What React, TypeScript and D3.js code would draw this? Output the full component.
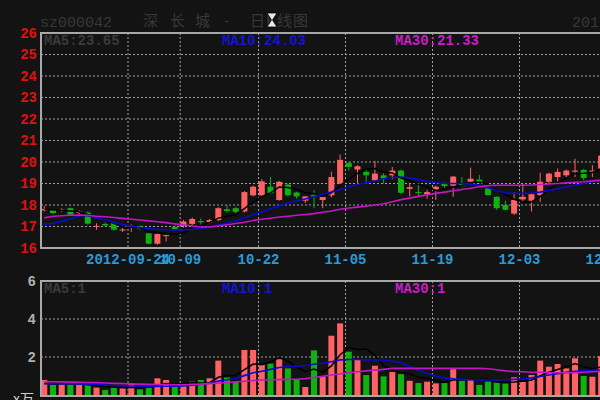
import React from "react";
import * as d3 from "d3";

// ---- data ----
const dates = [
  "09-10","09-11","09-12","09-13","09-14","09-17","09-18","09-19","09-20","09-21",
  "09-24","09-25","09-26","09-27","09-28","10-08","10-09","10-10","10-11","10-12",
  "10-15","10-16","10-17","10-18","10-19","10-22","10-23","10-24","10-25","10-26",
  "10-29","10-30","10-31","11-01","11-02","11-05","11-06","11-07","11-08","11-09",
  "11-12","11-13","11-14","11-15","11-16","11-19","11-20","11-21","11-22","11-23",
  "11-26","11-27","11-28","11-29","11-30","12-03","12-04","12-05","12-06","12-07",
  "12-10","12-11","12-12","12-13","12-14"
];
const open = [
  17.75,17.77,17.74,17.85,17.63,17.65,16.98,17.12,17.2,16.82,
  16.93,17.0,16.68,16.2,16.55,16.98,17.03,17.12,17.25,17.2,
  17.3,17.8,17.85,17.7,18.45,18.45,18.85,18.23,18.95,18.58,
  18.2,18.46,18.23,18.45,19.0,19.95,19.65,19.54,19.15,19.38,
  19.38,19.6,18.75,18.6,18.5,18.7,18.98,18.9,19.0,19.08,
  19.18,18.77,18.38,18.0,17.6,18.26,18.2,18.46,19.08,19.3,
  19.38,19.55,19.63,19.55,19.7
];
const high = [
  17.95,17.8,17.85,17.88,17.75,17.7,17.15,17.18,17.25,16.95,
  17.1,17.05,16.7,16.68,16.62,17.05,17.3,17.42,17.38,17.35,
  17.9,18.0,17.9,18.65,18.9,19.2,19.3,19.12,19.0,18.62,
  18.42,18.7,18.42,19.55,20.35,20.0,19.85,19.7,20.05,19.5,
  19.77,19.65,19.0,18.95,18.7,18.9,19.05,19.35,19.3,19.74,
  19.4,18.8,18.4,18.2,18.6,19.0,18.55,19.5,19.5,19.7,
  19.65,20.15,19.68,19.85,20.4
];
const low = [
  17.7,17.6,17.68,17.5,17.5,17.08,16.85,17.0,16.82,16.75,
  16.75,16.85,16.18,16.15,16.3,16.85,16.95,17.05,17.08,17.15,
  17.25,17.65,17.6,17.65,18.4,18.4,18.5,18.2,18.4,18.3,
  18.1,17.85,17.85,18.35,18.95,19.6,19.0,19.0,19.1,19.0,
  19.2,18.5,18.4,18.4,18.3,18.23,18.8,18.38,18.85,19.0,
  19.0,18.45,17.77,17.75,17.54,18.15,17.7,18.15,19.0,19.1,
  19.3,19.3,19.15,19.3,19.6
];
const close = [
  17.82,17.62,17.78,17.55,17.7,17.13,17.03,17.05,16.85,16.86,
  17.0,16.88,16.2,16.65,16.6,16.88,17.23,17.35,17.2,17.3,
  17.85,17.72,17.68,18.6,18.85,19.1,18.55,19.08,18.45,18.4,
  18.4,18.38,18.38,19.3,20.1,19.77,19.8,19.38,19.46,19.23,
  19.6,18.57,18.83,18.55,18.6,18.85,18.88,19.32,18.88,19.22,
  19.03,18.46,17.85,17.78,18.23,18.38,18.5,19.08,19.46,19.54,
  19.6,19.6,19.26,19.6,20.3
];
const ma5 = [
  17.8,17.78,17.75,17.72,17.69,17.56,17.44,17.29,17.15,16.98,
  16.96,16.93,16.76,16.72,16.67,16.64,16.71,16.94,17.05,17.19,
  17.39,17.48,17.55,17.83,18.14,18.39,18.56,18.84,18.81,18.72,
  18.58,18.54,18.4,18.57,18.91,19.19,19.47,19.67,19.7,19.53,
  19.49,19.25,19.14,18.96,18.83,18.68,18.74,18.84,18.91,19.03,
  19.07,18.98,18.69,18.47,18.27,18.14,18.15,18.39,18.73,18.99,
  19.24,19.46,19.48,19.51,19.66
];
const ma10 = [
  17.1,17.14,17.25,17.37,17.5,17.5,17.4,17.3,17.2,17.1,
  17.02,16.95,16.9,16.87,16.85,16.84,16.84,16.86,16.9,16.97,
  17.07,17.16,17.27,17.39,17.55,17.68,17.83,17.96,18.08,18.2,
  18.28,18.4,18.5,18.6,18.72,18.85,18.95,19.03,19.12,19.22,
  19.28,19.3,19.26,19.18,19.1,19.05,19.0,19.0,19.0,18.97,
  18.92,18.8,18.66,18.57,18.54,18.54,18.56,18.6,18.68,18.76,
  18.85,18.92,19.0,19.08,19.15
];
const ma30 = [
  17.4,17.48,17.5,17.52,17.53,17.52,17.48,17.45,17.42,17.38,
  17.34,17.3,17.26,17.22,17.18,17.12,17.08,17.02,16.98,16.98,
  17.02,17.08,17.14,17.2,17.28,17.34,17.38,17.44,17.48,17.52,
  17.56,17.6,17.66,17.72,17.8,17.86,17.9,17.94,18.0,18.06,
  18.15,18.25,18.32,18.4,18.48,18.54,18.6,18.66,18.72,18.78,
  18.85,18.9,18.92,18.92,18.92,18.92,18.93,18.95,18.98,19.0,
  19.03,19.06,19.08,19.12,19.15
];
const volume = [
  0.79,0.53,0.56,0.56,0.53,0.53,0.39,0.26,0.4,0.35,
  0.61,0.3,0.4,0.88,0.79,0.42,0.47,0.7,0.79,0.88,
  1.81,0.92,0.68,2.37,2.37,1.62,1.65,1.88,1.4,0.81,
  0.42,2.35,0.96,3.12,3.77,2.28,1.86,1.05,1.54,0.98,
  1.21,1.1,0.75,0.63,0.7,0.61,0.63,1.36,0.75,0.79,
  0.53,0.7,0.65,0.61,0.93,0.7,1.05,1.81,1.49,1.63,
  1.4,1.93,1.0,0.96,2.05
];
const volMa5 = [
  0.6,0.6,0.59,0.59,0.59,0.54,0.51,0.45,0.42,0.39,
  0.4,0.38,0.41,0.51,0.6,0.56,0.59,0.65,0.63,0.65,
  0.93,1.02,1.02,1.33,1.63,1.59,1.74,1.98,1.78,1.47,
  1.23,1.37,1.19,1.53,2.12,2.5,2.4,2.42,2.1,1.54,
  1.33,1.18,1.12,0.93,0.88,0.76,0.66,0.79,0.81,0.83,
  0.81,0.83,0.68,0.66,0.68,0.72,0.79,1.02,1.2,1.34,
  1.48,1.65,1.49,1.38,1.47
];
const volMa10 = [
  0.6,0.6,0.6,0.59,0.58,0.57,0.55,0.52,0.5,0.48,
  0.47,0.45,0.44,0.45,0.46,0.46,0.48,0.52,0.57,0.62,
  0.74,0.8,0.88,1.02,1.17,1.25,1.35,1.45,1.5,1.52,
  1.55,1.62,1.67,1.75,1.85,1.87,1.87,1.85,1.84,1.84,
  1.78,1.7,1.5,1.3,1.15,1.0,0.9,0.85,0.82,0.8,
  0.79,0.79,0.79,0.8,0.82,0.85,0.9,0.98,1.05,1.12,
  1.2,1.25,1.28,1.3,1.32
];
const volMa30 = [
  0.7,0.7,0.69,0.68,0.67,0.66,0.65,0.63,0.61,0.6,
  0.58,0.57,0.56,0.55,0.55,0.54,0.54,0.55,0.57,0.6,
  0.63,0.66,0.69,0.72,0.76,0.79,0.8,0.81,0.82,0.83,
  0.86,0.92,0.98,1.05,1.12,1.17,1.22,1.27,1.31,1.35,
  1.4,1.4,1.4,1.4,1.4,1.4,1.4,1.4,1.4,1.4,
  1.4,1.38,1.33,1.27,1.23,1.22,1.2,1.2,1.18,1.17,
  1.17,1.18,1.2,1.22,1.25
];
const tickIndex = [10, 16, 25, 35, 45, 55, 65];
const tickLabels = ["2012-09-24", "10-09", "10-22", "11-05", "11-19", "12-03", "12-17"];
const priceTicks = [16, 17, 18, 19, 20, 21, 22, 23, 24, 25, 26];
const volTicks = [2, 4, 6];
const priceLegend = ["MA5:23.65", "MA10:24.03", "MA30:21.33"];
const volLegend = ["MA5:1", "MA10:1", "MA30:1"];

const W = 600, H = 400;
const BG = "#131313";
const UP = "#ff6262";
const DOWN = "#0fb20f";
const FRAME = "#a8a8a8";
const GRID = "#a0a0a0";
const MONO = "'Liberation Mono', 'DejaVu Sans Mono', monospace";
const CJK = "'Noto Sans CJK SC', sans-serif";

export default function App() {
  const n = close.length;
  const left = 41;
  const step = 8.7;
  const x = d3.scaleLinear().domain([0, n - 1]).range([left + 3.3, left + 3.3 + step * (n - 1)]);
  const gridX = (i: number) => x(i) - 3.3;
  const yP = d3.scaleLinear().domain([16, 26]).range([248, 33]);
  const yV = d3.scaleLinear().domain([0, 6]).range([395, 281]);
  const bw = 6;

  const lineP = (arr: number[]) =>
    d3.line<number>().x((_, i) => x(i)).y((d) => yP(d))(arr) || "";
  const lineV = (arr: number[]) =>
    d3.line<number>().x((_, i) => x(i)).y((d) => yV(d))(arr) || "";

  const idx = d3.range(n);
  const legendX = [44, 222, 395];
  const legendC = ["#3a3a3a", "#1414d4", "#c81ec8"];

  return (
    <svg
      width={W}
      height={H}
      style={{ position: "fixed", left: 0, top: 0, display: "block" }}
    >
      <defs>
        <clipPath id="plotP">
          <rect x={left} y={33} width={W - left} height={215} />
        </clipPath>
        <clipPath id="plotV">
          <rect x={left} y={281} width={W - left} height={115} />
        </clipPath>
      </defs>
      <rect x={0} y={0} width={W} height={H} fill={BG} />

      {/* title row */}
      <text x={40} y={27} fill="#383838" fontFamily={MONO} fontSize={15}>sz000042</text>
      {[
        ["深", 143], ["长", 170], ["城", 195], ["-", 224], ["日", 250], ["K", 266], ["线", 277], ["图", 293],
      ].map(([t, px]) => (
        <text key={String(px)} x={px as number} y={26} fill="#383838" fontFamily={CJK} fontSize={15}>
          {t}
        </text>
      ))}
      <text x={572} y={27} fill="#383838" fontFamily={MONO} fontSize={15}>2012-12-14</text>
      <path d="M267,13 H277 L272.5,20 L277,27 H267 L271.5,20 Z" fill="#e8e8e8" stroke="#000" strokeWidth={0.8} />

      {/* price panel grid */}
      {priceTicks.slice(1, -1).map((t) => (
        <line key={t} x1={left} x2={W} y1={yP(t)} y2={yP(t)} stroke={GRID} strokeDasharray="2,2" strokeWidth={1} />
      ))}
      {tickIndex.map((ti) => (
        <line key={ti} x1={gridX(ti)} x2={gridX(ti)} y1={33} y2={248} stroke={GRID} strokeDasharray="2,2" strokeWidth={1} />
      ))}
      {/* volume panel grid */}
      {volTicks.slice(0, -1).map((t) => (
        <line key={t} x1={left} x2={W} y1={yV(t)} y2={yV(t)} stroke={GRID} strokeDasharray="2,2" strokeWidth={1} />
      ))}
      {tickIndex.map((ti) => (
        <line key={"v" + ti} x1={gridX(ti)} x2={gridX(ti)} y1={281} y2={395} stroke={GRID} strokeDasharray="2,2" strokeWidth={1} />
      ))}

      {/* candles */}
      <g clipPath="url(#plotP)">
        {idx.map((i) => {
          const up = close[i] >= open[i];
          const c = up ? UP : DOWN;
          const top = yP(Math.max(open[i], close[i]));
          const bot = yP(Math.min(open[i], close[i]));
          return (
            <g key={i}>
              <line x1={x(i)} x2={x(i)} y1={yP(high[i])} y2={yP(low[i])} stroke={c} strokeWidth={1} />
              <rect x={x(i) - bw / 2} y={top} width={bw} height={Math.max(1, bot - top)} fill={c} />
            </g>
          );
        })}
        <path d={lineP(ma5)} fill="none" stroke="#000" strokeWidth={1.5} />
        <path d={lineP(ma10)} fill="none" stroke="#0a0ad0" strokeWidth={1.6} />
        <path d={lineP(ma30)} fill="none" stroke="#c414c4" strokeWidth={1.6} />
      </g>

      {/* volume bars */}
      <g clipPath="url(#plotV)">
        {idx.map((i) => {
          const up = close[i] >= open[i];
          return (
            <rect
              key={i}
              x={x(i) - bw / 2}
              y={yV(volume[i])}
              width={bw}
              height={yV(0) - yV(volume[i])}
              fill={up ? UP : DOWN}
            />
          );
        })}
        <path d={lineV(volMa5)} fill="none" stroke="#000" strokeWidth={1.5} />
        <path d={lineV(volMa10)} fill="none" stroke="#0a0ad0" strokeWidth={1.6} />
        <path d={lineV(volMa30)} fill="none" stroke="#c414c4" strokeWidth={1.6} />
      </g>

      {/* frames */}
      <path d={`M${W},33 H${left} V248 H${W}`} fill="none" stroke={FRAME} strokeWidth={2} />
      <path d={`M${W},281 H${left} V396 H${W}`} fill="none" stroke={FRAME} strokeWidth={2} />

      {/* legends */}
      {priceLegend.map((t, k) => (
        <text key={t} x={legendX[k]} y={45} fill={legendC[k]} fontFamily={MONO} fontWeight="bold" fontSize={14}>{t}</text>
      ))}
      {volLegend.map((t, k) => (
        <text key={t} x={legendX[k]} y={293} fill={legendC[k]} fontFamily={MONO} fontWeight="bold" fontSize={14}>{t}</text>
      ))}

      {/* price axis labels */}
      {priceTicks.map((t) => (
        <text key={t} x={37} y={yP(t)} dy="0.35em" textAnchor="end" fill="#e01010" fontFamily={MONO} fontWeight="bold" fontSize={14}>
          {t}
        </text>
      ))}
      {/* volume axis labels */}
      {volTicks.map((t) => (
        <text key={t} x={36} y={yV(t)} dy="0.35em" textAnchor="end" fill="#b0b0b0" fontFamily={MONO} fontWeight="bold" fontSize={14}>
          {t}
        </text>
      ))}
      <text x={34} y={404} textAnchor="end" fill="#d0d0d0" fontFamily={CJK} fontSize={14}>x万</text>

      {/* date labels */}
      {tickIndex.map((ti, k) => (
        <text key={ti} x={gridX(ti)} y={264} textAnchor="middle" fill="#2a9ad8" fontFamily={MONO} fontWeight="bold" fontSize={14}>
          {tickLabels[k]}
        </text>
      ))}
    </svg>
  );
}
